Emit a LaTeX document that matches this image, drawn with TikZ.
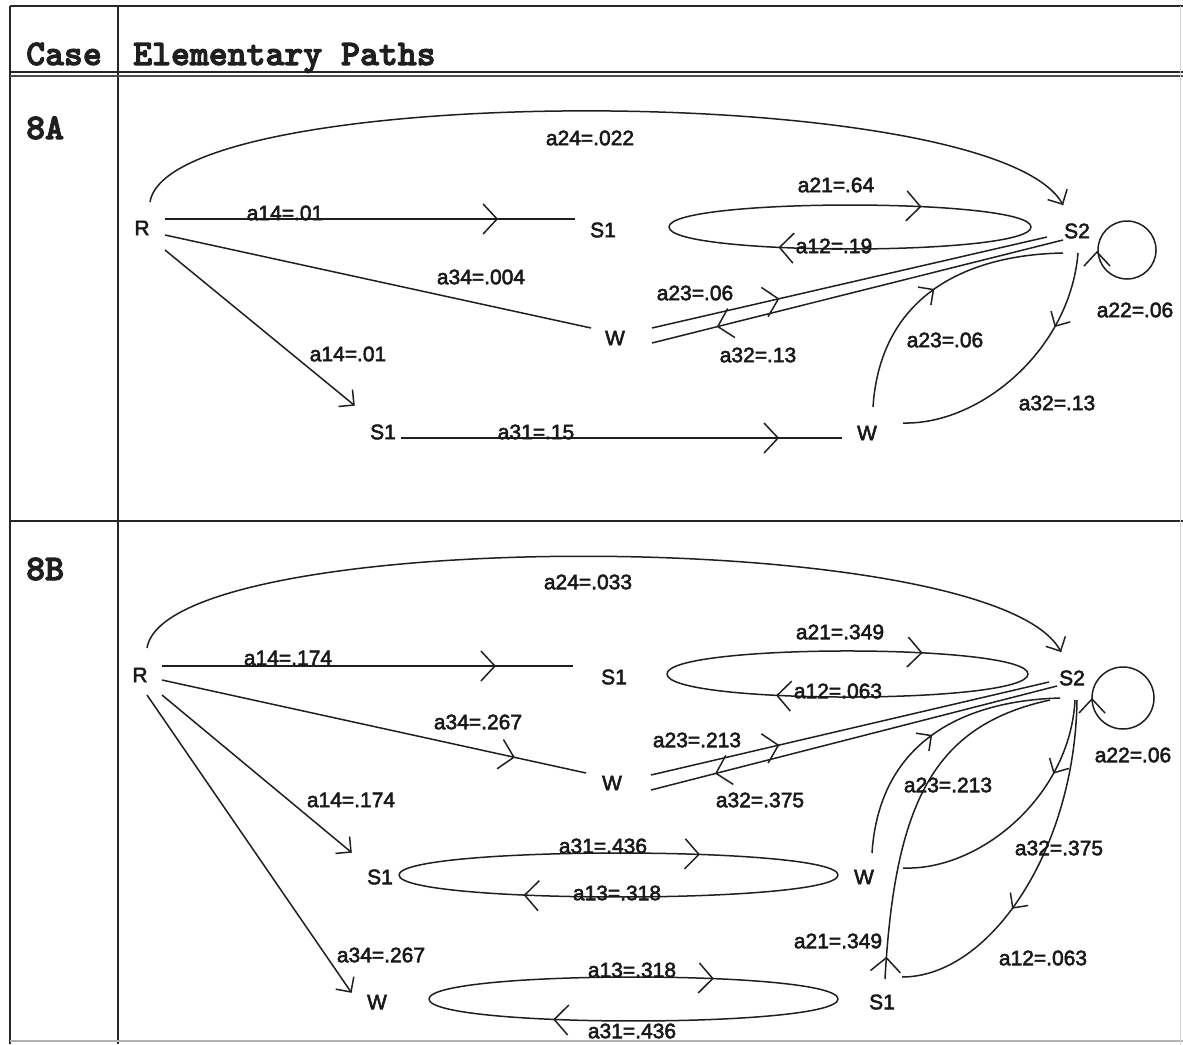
\documentclass[tikz,border=0pt]{standalone}
\usepackage{fontspec}
\setmainfont{Liberation Sans}
\newfontfamily\lblfont{Liberation Sans}[FakeBold=2.5]
\newfontfamily\hdrfont{lmmonolt10-bold}[Extension=.otf, FakeBold=3]
\usetikzlibrary{decorations.markings}
\tikzset{
  conn/.style={line width=1.5pt, draw=black!88},
  chev/.style={postaction={decorate, decoration={markings, mark=at position #1 with {\draw[line width=1.5pt, draw=black!88] (-14pt,15pt) -- (0pt,0pt) -- (-14pt,-15pt);}}}},
  schev/.style={postaction={decorate, decoration={markings, mark=at position #1 with {\draw[line width=1.5pt, draw=black!88] (-11pt,11pt) -- (0pt,0pt) -- (-11pt,-11pt);}}}},
  lbl/.style={font=\lblfont\fontsize{21}{25}\selectfont, inner sep=0pt, text=black!90},
  hdr/.style={font=\hdrfont\fontsize{36}{42}\selectfont, inner sep=0pt, anchor=base west, text=black!88},
  frameline/.style={line width=2.6pt, draw=black!85}
}
\begin{document}
\begin{tikzpicture}[x=1pt,y=-1pt]
\useasboundingbox (0,0) rectangle (1183,1044);
% ---------- table frame ----------
\draw[frameline] (10,6) -- (1183,6);
\draw[frameline] (10,6) -- (10,1044);
\draw[frameline] (118,6) -- (118,1044);
\draw[line width=1.3pt, black!85] (10,72) -- (1183,72);
\draw[line width=1.3pt, black!70] (10,76) -- (1183,76);
\draw[frameline] (10,521) -- (1183,521);
\draw[gray!60, line width=1.2pt] (10,1041) -- (1183,1041);
\draw[gray!35, line width=1pt] (1180,6) -- (1180,1044);
\node[hdr] (hcase) at (26,65) {Case};
\node[hdr] (hpath) at (133,65) {Elementary Paths};
\node[hdr] (c8a) at (26,139) {8A};
\node[hdr] (c8b) at (26,580) {8B};

% ================= 8A =================
\node[lbl] (RA) at (142,228) {R};
\node[lbl] (S1A) at (603,230) {S1};
\node[lbl] (S2A) at (1077,231) {S2};
\node[lbl] (WA) at (615,338) {W};
\node[lbl] (S1bA) at (383,432) {S1};
\node[lbl] (WbA) at (867,433) {W};

\coordinate (A1s) at (165,219); \coordinate (A1e) at (575,219);
\coordinate (A2s) at (165,235); \coordinate (A2e) at (591,328);
\coordinate (A3s) at (165,250); \coordinate (A3e) at (354,405);
\coordinate (A4s) at (401,438); \coordinate (A4e) at (842,438);
\coordinate (A5s) at (150,202); \coordinate (A5e) at (1063,205);
\coordinate (AeL) at (669,227); \coordinate (AeR) at (1031,227);
\coordinate (A6s) at (652,328); \coordinate (A6e) at (1047,237);
\coordinate (A7s) at (1063,240); \coordinate (A7e) at (652,343);
\coordinate (A8s) at (873,407); \coordinate (A8e) at (1063,253);
\coordinate (A9s) at (1078,253); \coordinate (A9e) at (903,423);
\coordinate (AL) at (1127,250); \coordinate (ALt) at (1097,252);

\draw[conn, schev=0.999] (A5s) .. controls (170,80) and (1000,80) .. (A5e);
\draw[conn, chev=0.81] (A1s) -- (A1e);
\draw[conn] (A2s) -- (A2e);
\draw[conn, schev=1] (A3s) -- (A3e);
\draw[conn, chev=0.855] (A4s) -- (A4e);
\draw[conn, chev=0.69] (AeL) .. controls +(0,-29.3) and +(0,-29.3) .. (AeR);
\draw[conn, chev=0.69] (AeR) .. controls +(0,29.3) and +(0,29.3) .. (AeL);
\draw[conn, chev=0.32] (A6s) -- (A6e);
\draw[conn, chev=0.84] (A7s) -- (A7e);
\draw[conn, schev=0.5] (A8s) .. controls (880,300) and (960,255) .. (A8e);
\draw[conn, schev=0.29] (A9s) .. controls (1070,350) and (980,425) .. (A9e);
\draw[conn] (AL) circle[radius=29pt];
\draw[conn] ([shift={(-13pt,-14pt)}]ALt) -- (ALt) -- ([shift={(13pt,-14pt)}]ALt);

\node[lbl] (la24) at (590,138) {a24=.022};
\node[lbl] (la14) at (285,213) {a14=.01};
\node[lbl] (la21) at (836,185) {a21=.64};
\node[lbl] (la12) at (834,246) {a12=.19};
\node[lbl] (la34) at (481,277) {a34=.004};
\node[lbl] (la23) at (695,293) {a23=.06};
\node[lbl] (la32) at (758,355) {a32=.13};
\node[lbl] (la22) at (1135,310) {a22=.06};
\node[lbl] (la23c) at (945,340) {a23=.06};
\node[lbl] (la14d) at (348,354) {a14=.01};
\node[lbl] (la31) at (536,432) {a31=.15};
\node[lbl] (la32c) at (1057,403) {a32=.13};

% ================= 8B =================
\node[lbl] (RB) at (140,675) {R};
\node[lbl] (S1B) at (614,677) {S1};
\node[lbl] (S2B) at (1072,678) {S2};
\node[lbl] (WB) at (612,783) {W};
\node[lbl] (S1mB) at (380,877) {S1};
\node[lbl] (WmB) at (864,877) {W};
\node[lbl] (WlB) at (377,1002) {W};
\node[lbl] (S1rB) at (882,1002) {S1};

\coordinate (B1s) at (162,666); \coordinate (B1e) at (573,666);
\coordinate (B2s) at (162,680); \coordinate (B2e) at (586,773);
\coordinate (B3s) at (162,695); \coordinate (B3e) at (351,852);
\coordinate (B4s) at (147,695); \coordinate (B4e) at (351,992);
\coordinate (B5s) at (147,648); \coordinate (B5e) at (1061,652);
\coordinate (BeL) at (667,674); \coordinate (BeR) at (1028,674);
\coordinate (B6s) at (651,775); \coordinate (B6e) at (1049,682);
\coordinate (B7s) at (1057,686); \coordinate (B7e) at (651,790);
\coordinate (BmL) at (399,875); \coordinate (BmR) at (838,875);
\coordinate (BlL) at (429,999); \coordinate (BlR) at (838,999);
\coordinate (B8s) at (872,853); \coordinate (B8e) at (1060,698);
\coordinate (B9s) at (1075,700); \coordinate (B9e) at (903,868);
\coordinate (B10s) at (885,979); \coordinate (B10e) at (1050,700);
\coordinate (B11s) at (1077,700); \coordinate (B11e) at (902,977);
\coordinate (BL) at (1123,698); \coordinate (BLt) at (1092,699);

\draw[conn, schev=0.999] (B5s) .. controls (167,525) and (1000,525) .. (B5e);
\draw[conn, chev=0.81] (B1s) -- (B1e);
\draw[conn, chev=0.83] (B2s) -- (B2e);
\draw[conn, schev=1] (B3s) -- (B3e);
\draw[conn, schev=1] (B4s) -- (B4e);
\draw[conn, chev=0.70] (BeL) .. controls +(0,-30.7) and +(0,-30.7) .. (BeR);
\draw[conn, chev=0.69] (BeR) .. controls +(0,30.7) and +(0,30.7) .. (BeL);
\draw[conn, chev=0.32] (B6s) -- (B6e);
\draw[conn, chev=0.84] (B7s) -- (B7e);
\draw[conn, chev=0.68] (BmL) .. controls +(0,-29.3) and +(0,-29.3) .. (BmR);
\draw[conn, chev=0.71] (BmR) .. controls +(0,29.3) and +(0,29.3) .. (BmL);
\draw[conn, chev=0.69] (BlL) .. controls +(0,-29.3) and +(0,-29.3) .. (BlR);
\draw[conn, chev=0.69] (BlR) .. controls +(0,29.3) and +(0,29.3) .. (BlL);
\draw[conn, schev=0.5] (B8s) .. controls (879,746) and (957,701) .. (B8e);
\draw[conn, schev=0.29] (B9s) .. controls (1070,796) and (980,871) .. (B9e);
\draw[conn, chev=0.06] (B10s) .. controls (895,800) and (935,725) .. (B10e);
\draw[conn, schev=0.62] (B11s) .. controls (1075,850) and (990,977) .. (B11e);
\draw[conn] (BL) circle[radius=31pt];
\draw[conn] ([shift={(-13pt,-14pt)}]BLt) -- (BLt) -- ([shift={(13pt,-14pt)}]BLt);

\node[lbl] (lb24) at (588,582) {a24=.033};
\node[lbl] (lb14) at (288,658) {a14=.174};
\node[lbl] (lb34) at (478,722) {a34=.267};
\node[lbl] (lb21) at (840,632) {a21=.349};
\node[lbl] (lb12) at (838,691) {a12=.063};
\node[lbl] (lb23) at (697,740) {a23=.213};
\node[lbl] (lb32) at (760,800) {a32=.375};
\node[lbl] (lb22) at (1133,755) {a22=.06};
\node[lbl] (lb23c) at (948,785) {a23=.213};
\node[lbl] (lb32c) at (1059,848) {a32=.375};
\node[lbl] (lb14d) at (351,800) {a14=.174};
\node[lbl] (lb31m) at (603,846) {a31=.436};
\node[lbl] (lb13m) at (617,893) {a13=.318};
\node[lbl] (lb34d) at (381,955) {a34=.267};
\node[lbl] (lb21c) at (838,941) {a21=.349};
\node[lbl] (lb12c) at (1043,958) {a12=.063};
\node[lbl] (lb13l) at (632,970) {a13=.318};
\node[lbl] (lb31l) at (632,1031) {a31=.436};
\end{tikzpicture}
\end{document}
